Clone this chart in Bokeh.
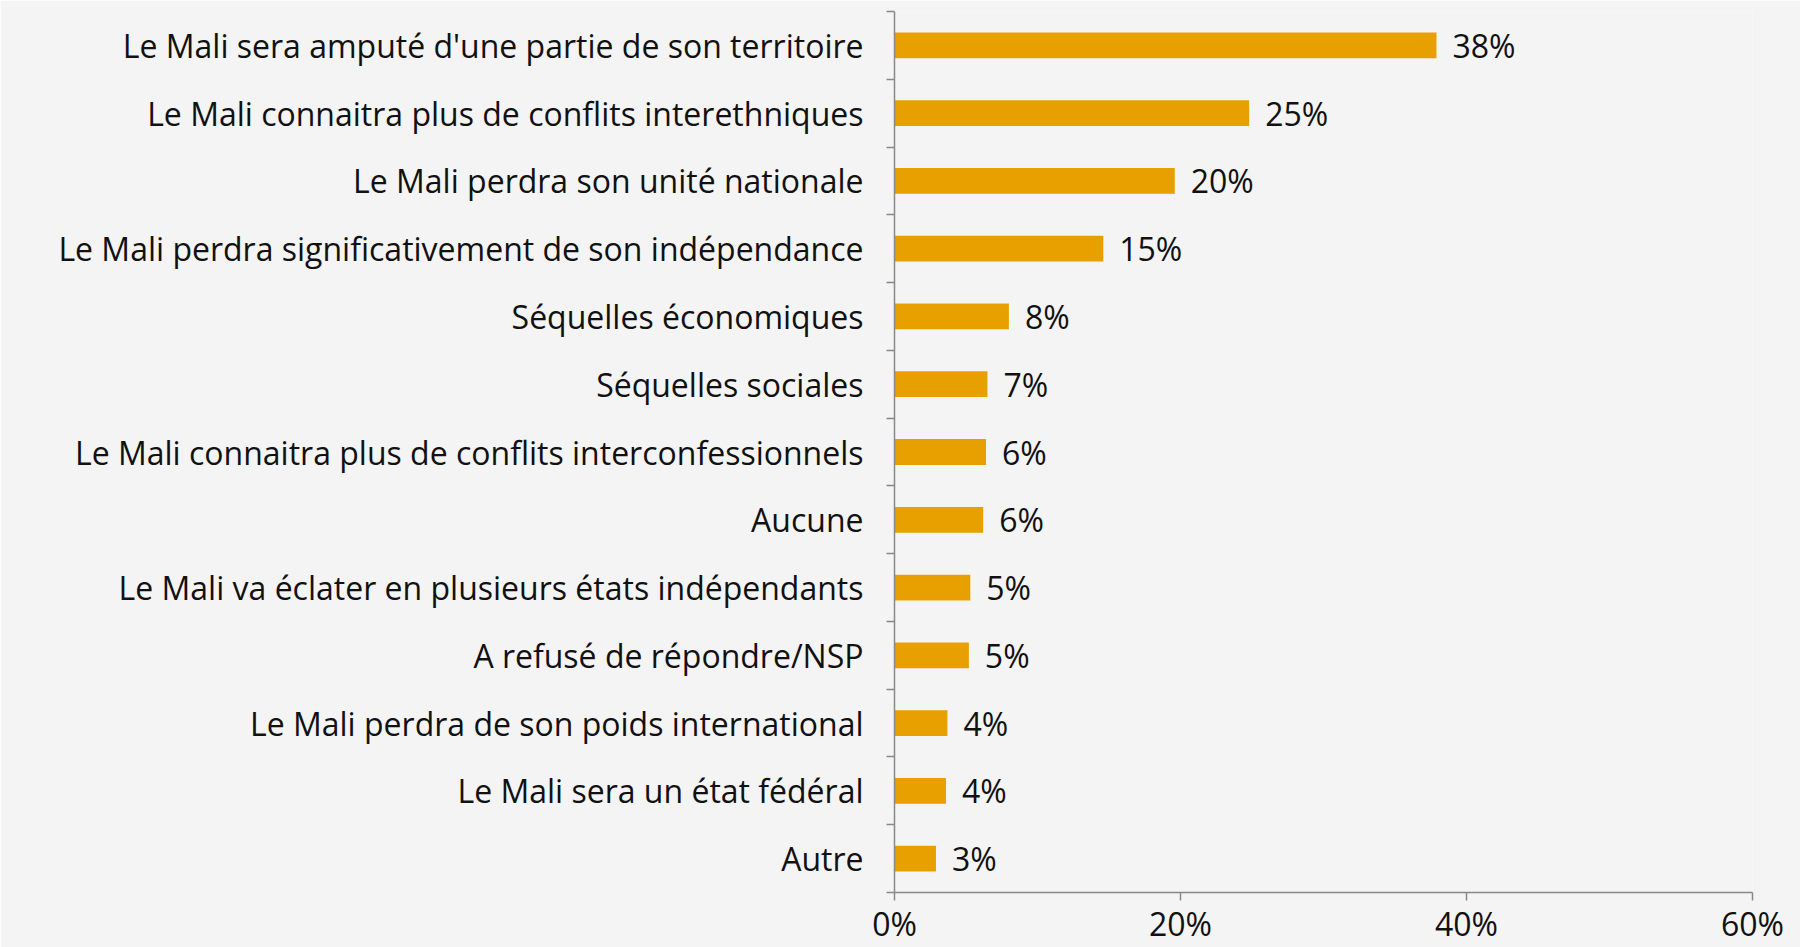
from bokeh.plotting import figure
from bokeh.models import ColumnDataSource, FixedTicker, Range1d
from bokeh.core.properties import value
from bokeh.embed import file_html
from bokeh.resources import INLINE

categories = [
    "Le Mali sera amputé d'une partie de son territoire",
    "Le Mali connaitra plus de conflits interethniques",
    "Le Mali perdra son unité nationale",
    "Le Mali perdra significativement de son indépendance",
    "Séquelles économiques",
    "Séquelles sociales",
    "Le Mali connaitra plus de conflits interconfessionnels",
    "Aucune",
    "Le Mali va éclater en plusieurs états indépendants",
    "A refusé de répondre/NSP",
    "Le Mali perdra de son poids international",
    "Le Mali sera un état fédéral",
    "Autre",
]
values = [37.9, 24.8, 19.6, 14.6, 8.0, 6.5, 6.4, 6.2, 5.3, 5.2, 3.7, 3.6, 2.9]
value_labels = ["38%", "25%", "20%", "15%", "8%", "7%", "6%", "6%", "5%", "5%", "4%", "4%", "3%"]
x_ticks = [0, 20, 40, 60]
x_tick_labels = ["0%", "20%", "40%", "60%"]

FONT = "Open Sans"
FS = "32px"
BG = "#f4f4f4"
n = len(categories)
ypos = [n - 1 - i for i in range(n)]

src = ColumnDataSource(dict(y=ypos, v=values, lab=value_labels, cat=categories))

p = figure(width=1800, height=947, output_backend="svg", toolbar_location=None,
           x_range=Range1d(0, 60), y_range=Range1d(-0.5, n - 0.5),
           min_border_left=894, min_border_right=48, min_border_top=11, min_border_bottom=54)
p.background_fill_color = BG
p.border_fill_color = BG
p.outline_line_color = None
p.grid.visible = False

p.hbar(y="y", left=0, right="v", height=0.38, source=src,
       fill_color="#E8A000", line_color=None)
p.text(x="v", y="y", text="lab", source=src, x_offset=16,
       text_baseline="middle", text_align="left",
       text_font=value(FONT), text_font_size=FS, text_color="#111111")

# y axis: labels at category centers, small ticks at boundaries
yax = p.yaxis[0]
yax.ticker = FixedTicker(ticks=ypos, minor_ticks=[k - 0.5 for k in range(n + 1)])
yax.major_label_overrides = {y: c for y, c in zip(ypos, categories)}
yax.major_tick_out = 0
yax.major_tick_in = 0
yax.minor_tick_out = 8
yax.minor_tick_in = 0
yax.minor_tick_line_color = "#888888"
yax.axis_line_color = "#888888"
yax.axis_line_width = 1.5
yax.minor_tick_line_width = 1.5
yax.major_label_standoff = 23
yax.major_label_text_font = FONT
yax.major_label_text_font_size = FS
yax.major_label_text_color = "#111111"

xax = p.xaxis[0]
xax.ticker = FixedTicker(ticks=x_ticks, minor_ticks=[])
xax.major_label_overrides = {t: l for t, l in zip(x_ticks, x_tick_labels)}
xax.major_tick_out = 8
xax.major_tick_in = 0
xax.major_tick_line_color = "#888888"
xax.major_tick_line_width = 1.5
xax.axis_line_color = "#888888"
xax.axis_line_width = 1.5
xax.major_label_standoff = 1
xax.major_label_text_font = FONT
xax.major_label_text_font_size = FS
xax.major_label_text_color = "#111111"

open("out.html", "w").write(file_html(p, INLINE))
